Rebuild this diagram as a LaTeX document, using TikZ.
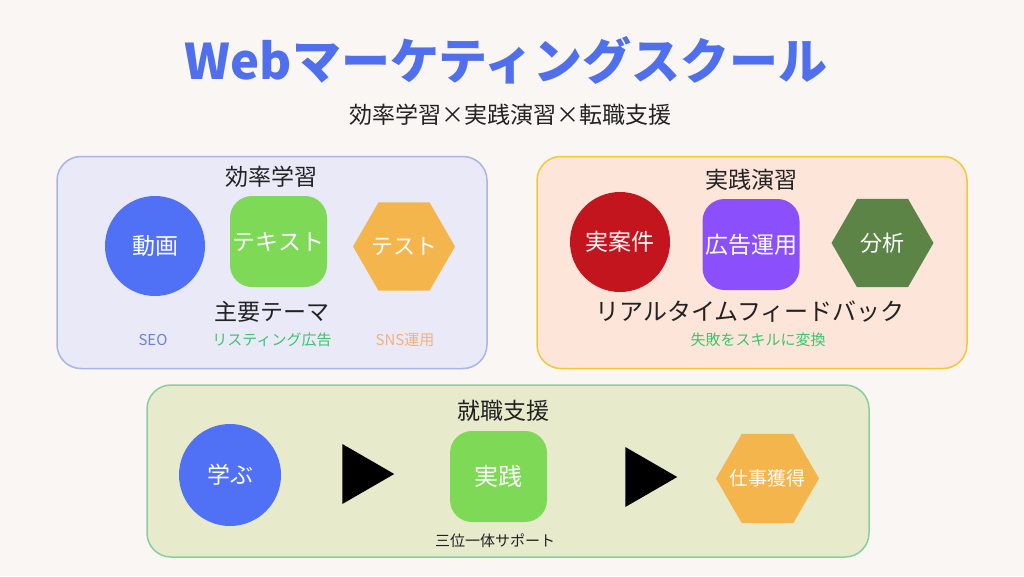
\documentclass[tikz,border=0pt]{standalone}
\usepackage{fontspec}
\setmainfont{Noto Sans CJK JP}
\usetikzlibrary{shapes.geometric}

\definecolor{bgcream}{HTML}{FAF6F3}
\definecolor{titleblue}{HTML}{4F6FEC}
\definecolor{inkgray}{HTML}{222222}
\definecolor{lavfill}{HTML}{E9E9F8}
\definecolor{lavline}{HTML}{AAB4EA}
\definecolor{peachfill}{HTML}{FDE5D9}
\definecolor{goldline}{HTML}{F3C935}
\definecolor{olivefill}{HTML}{E7EBCC}
\definecolor{mintline}{HTML}{86CF9F}
\definecolor{shapeblue}{HTML}{5070F5}
\definecolor{shapegreen}{HTML}{7ED957}
\definecolor{shapeorange}{HTML}{F4B54D}
\definecolor{shapered}{HTML}{C3151E}
\definecolor{shapepurple}{HTML}{8C4FFC}
\definecolor{shapeforest}{HTML}{5D8447}
\definecolor{seoblue}{HTML}{6B82D6}
\definecolor{listgreen}{HTML}{3EC46E}
\definecolor{snsorange}{HTML}{F2B27A}

\tikzset{every picture/.style={line width=0.75pt}}
\tikzset{
  panel/.style={draw, line width=1.5pt, rounded corners=24pt, inner sep=0pt},
  roundnode/.style={circle, minimum size=100pt, inner sep=0pt, text=white, font=\fontsize{23}{28}\selectfont},
  squarenode/.style={rectangle, rounded corners=22pt, minimum width=97pt, minimum height=91pt, inner sep=0pt, text=white, font=\fontsize{23}{28}\selectfont},
  hexnode/.style={regular polygon, regular polygon sides=6, minimum size=102pt, inner sep=0pt},
  hextext/.style={inner sep=0pt, text=white, font=\fontsize{22}{26}\selectfont},
  arrowtri/.style={isosceles triangle, isosceles triangle apex angle=60, fill=black, inner sep=0pt, minimum height=52pt},
  heading/.style={inner sep=0pt, text=inkgray, font=\fontsize{23}{28}\selectfont},
  smalltext/.style={inner sep=0pt, font=\fontsize{15}{18}\selectfont},
}

\begin{document}
\begin{tikzpicture}[x=1pt,y=1pt,yscale=-1]
	\useasboundingbox [fill=bgcream] (0,0) rectangle (1024,576);

	% Title
	\node [inner sep=0pt, text=titleblue, font=\fontsize{49}{56}\selectfont\bfseries] (title) at (506,60) {Webマーケティングスクール};
	\node [heading] (subtitle) at (510,115) {効率学習×実践演習×転職支援};

	%Rounded Rect: study panel
	\node [panel, fill=lavfill, draw=lavline, minimum width=430pt, minimum height=212pt] (studybox) at (272,262.5) {};
	% Text Node
	\node [heading] (studyhead) at (271,177) {効率学習};
	\node [roundnode, fill=shapeblue] (video) at (155,246) {動画};
	\node [squarenode, fill=shapegreen] (textbook) at (278.5,241.5) {テキスト};
	\node [hexnode, fill=shapeorange, label={[hextext]center:テスト}] (quiz) at (404,246.5) {};
	% Text Node
	\node [heading] (themes) at (272,312) {主要テーマ};
	\node [smalltext, text=seoblue] (seo) at (153,340) {SEO};
	\node [smalltext, text=listgreen] (listing) at (272,340) {リスティング広告};
	\node [smalltext, text=snsorange] (sns) at (405,340) {SNS運用};

	%Rounded Rect: practice panel
	\node [panel, fill=peachfill, draw=goldline, minimum width=430pt, minimum height=212pt] (practicebox) at (752,262.5) {};
	% Text Node
	\node [heading] (practicehead) at (751,180) {実践演習};
	\node [roundnode, fill=shapered] (realcase) at (620,242) {実案件};
	\node [squarenode, fill=shapepurple] (adops) at (751,244.5) {広告運用};
	\node [hexnode, fill=shapeforest, label={[hextext]center:分析}] (analysis) at (882.5,243) {};
	% Text Node
	\node [heading, font=\fontsize{24}{28}\selectfont] (feedback) at (750,312) {リアルタイムフィードバック};
	\node [smalltext, text=listgreen] (failskill) at (758,340) {失敗をスキルに変換};

	%Rounded Rect: career panel
	\node [panel, fill=olivefill, draw=mintline, minimum width=722pt, minimum height=172pt] (careerbox) at (508,471) {};
	% Text Node
	\node [heading] (careerhead) at (503,411) {就職支援};
	\node [roundnode, fill=shapeblue, minimum size=102pt] (learn) at (230,475) {学ぶ};
	\node [arrowtri] (stepone) at (395,474) [anchor=apex] {};
	\node [squarenode, fill=shapegreen, font=\fontsize{24}{28}\selectfont] (practice) at (498.5,476.5) {実践};
	\node [arrowtri] (steptwo) at (678,477) [anchor=apex] {};
	\node [hexnode, fill=shapeorange, minimum size=103pt, label={[hextext, font=\fontsize{19}{22}\selectfont]center:仕事獲得}] (getjob) at (767.5,478.5) {};
	% Text Node
	\node [smalltext, text=inkgray] (trinity) at (495,541) {三位一体サポート};

\end{tikzpicture}
\end{document}
